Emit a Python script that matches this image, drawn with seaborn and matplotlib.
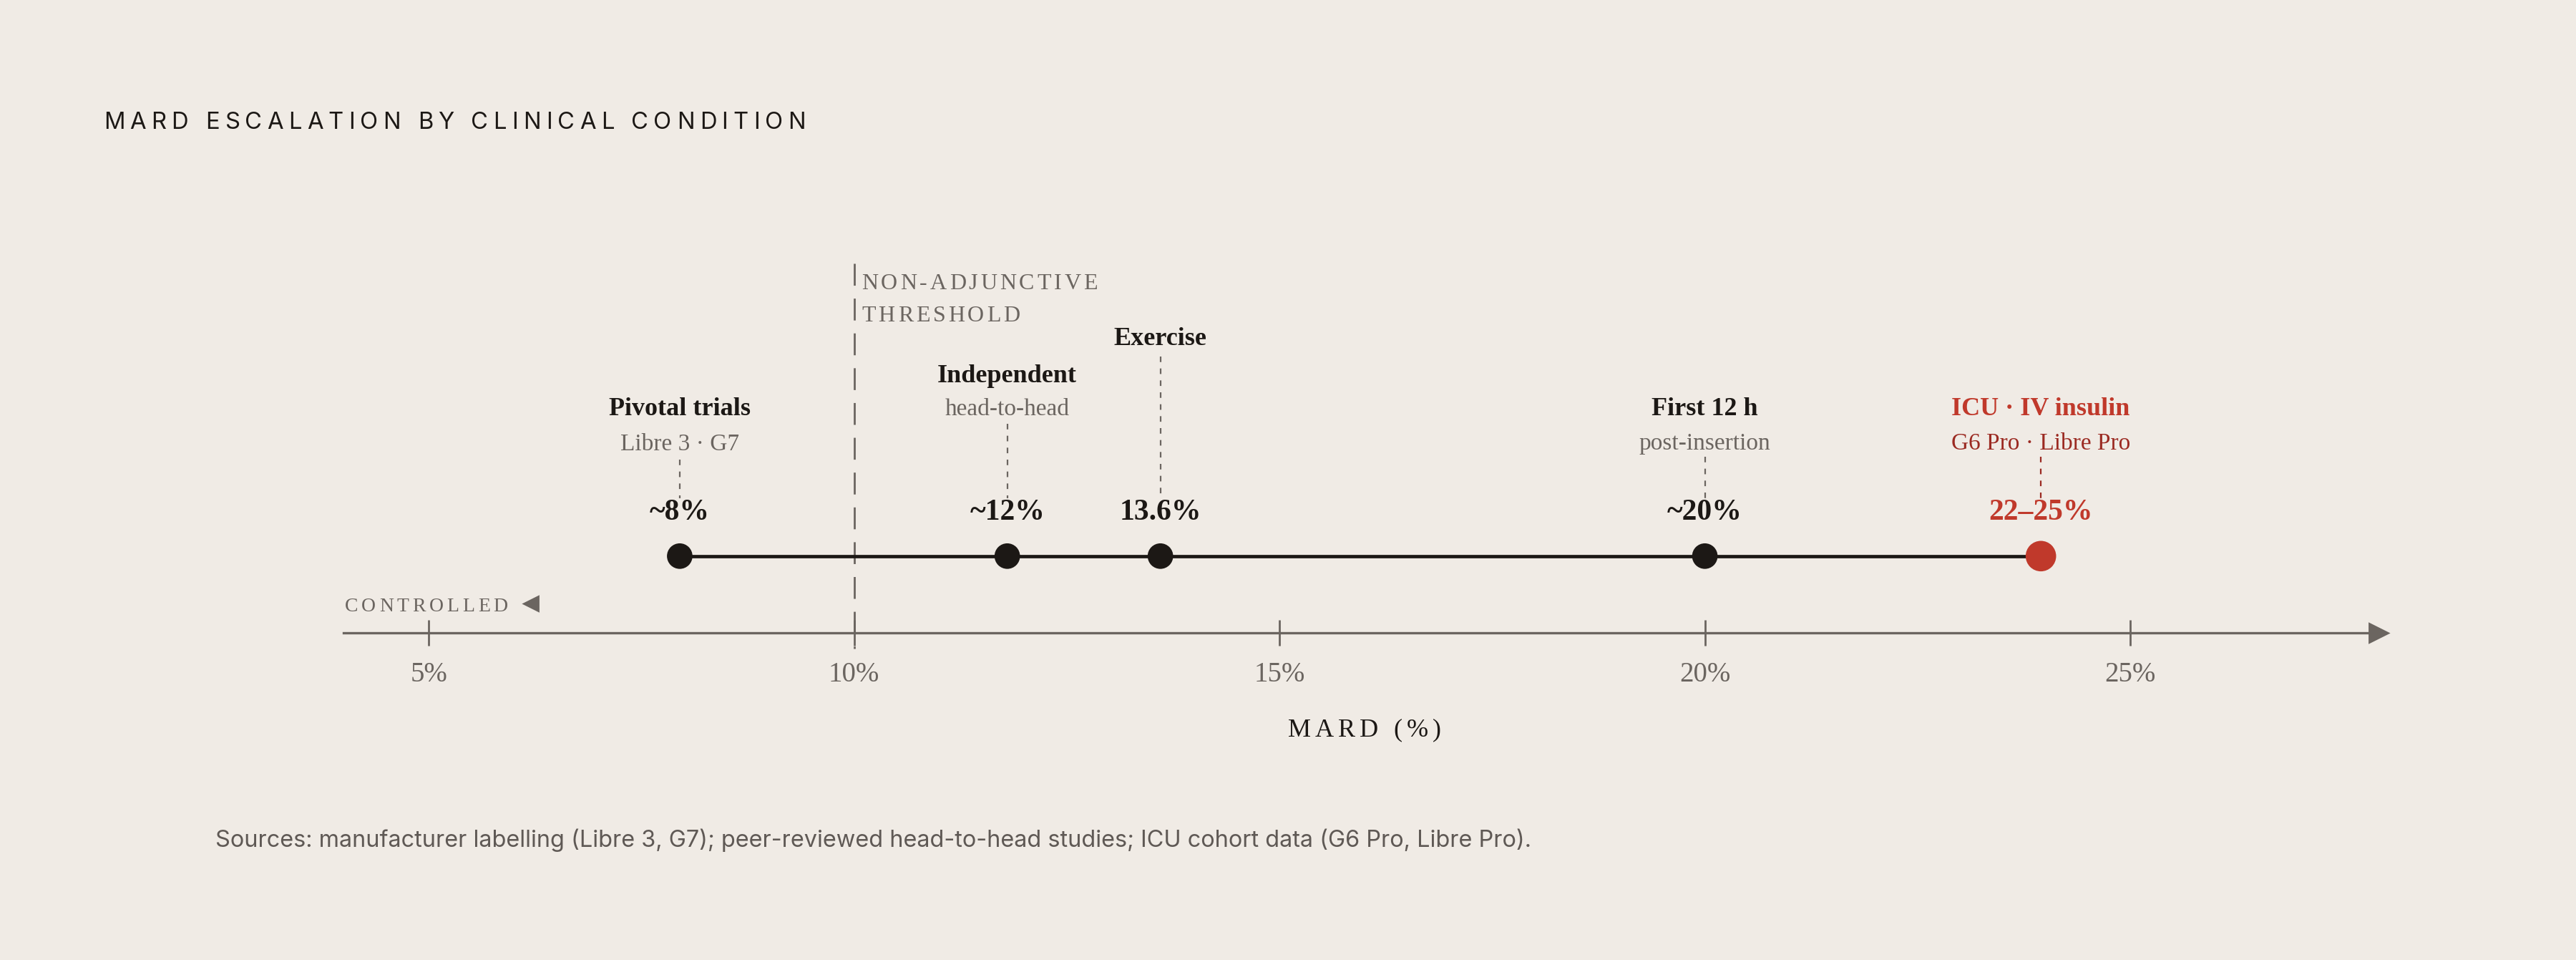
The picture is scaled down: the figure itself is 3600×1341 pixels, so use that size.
import numpy as np
import pandas as pd
import matplotlib.pyplot as plt
import seaborn as sns
from matplotlib.transforms import offset_copy

# Data
conditions = ["Pivotal trials", "Independent", "Exercise", "First 12 h", "ICU · IV insulin"]
details = ["Libre 3 · G7", "head-to-head", "", "post-insertion", "G6 Pro · Libre Pro"]
mard = [7.95, 11.8, 13.6, 20.0, 23.95]
value_labels = ["~8%", "~12%", "13.6%", "~20%", "22–25%"]
groups = ["normal", "normal", "normal", "normal", "icu"]
tick_values = [5, 10, 15, 20, 25]
tick_labels = ["5%", "10%", "15%", "20%", "25%"]
threshold = 10

BG = "#f0ebe5"
DARK = "#1c1815"
GRAY = "#6b6560"
RED = "#c0392b"
DARKRED = "#9b2a22"
SERIF = ["Liberation Serif", "DejaVu Serif"]
SANS = ["Inter", "DejaVu Sans"]

sns.set_theme(style="white")
plt.rcParams["font.family"] = SERIF

# canvas: x in MARD %, y in reference pixel rows (0 at top, 584 at bottom)
X0, X1 = -0.04, 30.24
fig = plt.figure(figsize=(18, 6.705), dpi=200, facecolor=BG)
ax = fig.add_axes([0, 0, 1, 1])
ax.set_facecolor(BG)
ax.set_xlim(X0, X1)
ax.set_ylim(584, 0)


def refx(px):
    return X0 + px * (X1 - X0) / 1568


def tracked(x, y, s, track_pt, ha="left", transform=None, **kw):
    # letter-spaced text, one glyph at a time
    base = transform if transform is not None else ax.transData
    r = fig.canvas.get_renderer()
    step = track_pt * fig.dpi / 72

    def width(t):
        tt = ax.text(0, 0, t + "|", **kw)
        w = tt.get_window_extent(r).width
        tt.remove()
        return w

    bar = width("")
    adv = [width(s[:i]) - bar for i in range(len(s) + 1)]
    total = adv[-1] + step * (len(s) - 1)
    start = {"left": 0, "center": -total / 2, "right": -total}[ha]
    for i, ch in enumerate(s):
        if ch == " ":
            continue
        tr = offset_copy(base, fig=fig, x=start + adv[i] + i * step, y=0, units="dots")
        ax.text(x, y, ch, transform=tr, ha="left", va="baseline", **kw)


# axis with ticks
for side in ["top", "left", "right"]:
    ax.spines[side].set_visible(False)
ax.spines["bottom"].set_position(("data", 385))
ax.spines["bottom"].set_bounds(4, 27.92)
ax.spines["bottom"].set_color(GRAY)
ax.spines["bottom"].set_linewidth(1.2)
ax.set_yticks([])
ax.set_xticks(tick_values)
ax.set_xticklabels(tick_labels)
ax.tick_params(axis="x", bottom=True, direction="inout", length=13, width=1.0, color=GRAY,
               labelsize=14, labelcolor=GRAY, pad=8)
ax.plot(27.92, 385, marker=">", ms=9.5, color=GRAY, clip_on=False)

tracked(16, 448, "MARD (%)", 2.2, ha="center", fontsize=13, color=DARK)
tracked(refx(210), 372, "CONTROLLED", 1.7, fontsize=10, color=GRAY)
ax.plot(refx(323), 367, marker="<", ms=7, color=GRAY)

# non-adjunctive threshold
ax.plot([threshold, threshold], [160.4, 394.6], color=GRAY, lw=1.0, ls=(0, (11, 6.5)))
tracked(refx(524.5), 176, "NON-ADJUNCTIVE", 1.4, fontsize=11.5, color=GRAY)
tracked(refx(524.5), 195.5, "THRESHOLD", 1.4, fontsize=11.5, color=GRAY)

# escalation line + points
df = pd.DataFrame({"mard": mard, "row": 338.3, "group": groups})
sns.lineplot(data=df, x="mard", y="row", color=DARK, lw=1.7, ax=ax, zorder=2)
sns.scatterplot(data=df, x="mard", y="row", hue="group", size="group",
                palette={"normal": DARK, "icu": RED}, sizes={"normal": 165, "icu": 235},
                edgecolor="none", legend=False, ax=ax, zorder=3)
ax.set_xlabel("")
ax.set_ylabel("")

# annotation layout (title baseline, detail baseline, leader top)
title_y = [252.5, 232.5, 210, 252.5, 252.5]
detail_y = [274, 252.5, None, 273.5, 273.5]
leader_top = [279.5, 258, 217, 278, 278]

for i, x in enumerate(mard):
    icu = groups[i] == "icu"
    c_main = RED if icu else DARK
    c_sub = DARKRED if icu else GRAY
    ax.text(x, title_y[i], conditions[i], ha="center", va="baseline",
            fontsize=13, weight="bold", color=c_main)
    if details[i]:
        ax.text(x, detail_y[i], details[i], ha="center", va="baseline",
                fontsize=12, color=c_sub)
    ax.plot([x, x], [leader_top[i], 303], color=c_sub, lw=0.8, ls=(0, (3.5, 4)))
    ax.text(x, 316, value_labels[i], ha="center", va="baseline",
            fontsize=15, weight="bold", color=c_main)

# title and sources
tracked(refx(63), 78.5, "MARD ESCALATION BY CLINICAL CONDITION", 2.6,
        fontsize=11.8, color=DARK, family=SANS)
ax.text(refx(131), 515, "Sources: manufacturer labelling (Libre 3, G7); peer-reviewed "
        "head-to-head studies; ICU cohort data (G6 Pro, Libre Pro).",
        ha="left", va="baseline", fontsize=11.7, color="#5f5955", family=SANS)

fig.savefig("out.png", dpi=200, facecolor=BG)
